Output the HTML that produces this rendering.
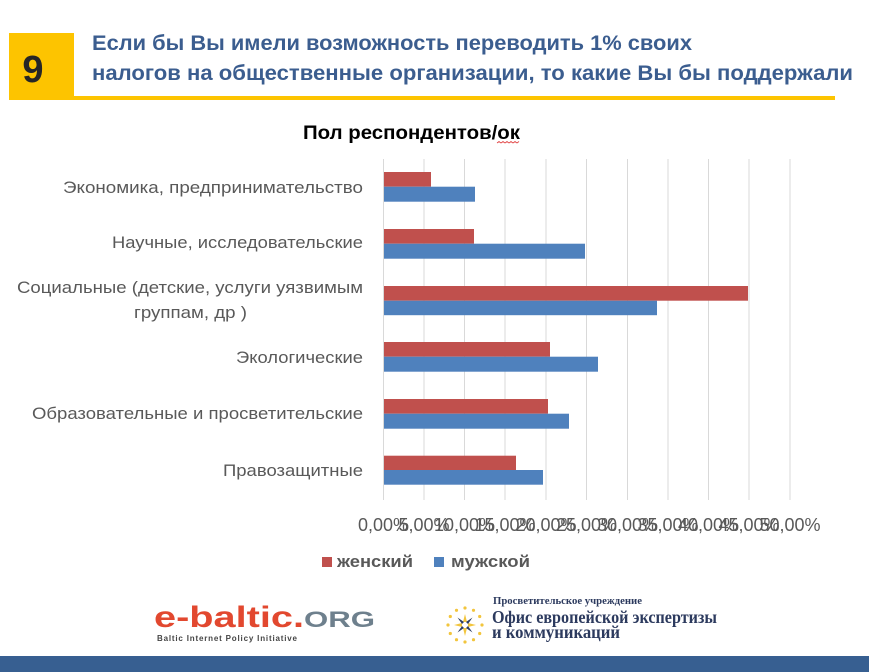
<!DOCTYPE html>
<html>
<head>
<meta charset="utf-8">
<style>
  html, body { margin:0; padding:0; background:#fff; }
  body { width:869px; height:672px; overflow:hidden; }
  svg { display:block; }
  .sans { font-family: "Liberation Sans", "DejaVu Sans", sans-serif; }
  .serif { font-family: "Liberation Serif", "DejaVu Serif", serif; }
</style>
</head>
<body>
<svg width="869" height="672" viewBox="0 0 869 672" xmlns="http://www.w3.org/2000/svg">
  <rect x="0" y="0" width="869" height="672" fill="#ffffff"/>

  <!-- Header -->
  <rect x="9" y="33" width="65" height="67" fill="#fdc400"/>
  <rect x="9" y="96" width="826" height="4" fill="#fdc400"/>
  <text x="33" y="82" class="sans" font-size="38" font-weight="bold" fill="#262626" text-anchor="middle">9</text>
  <text x="92" y="50" class="sans" font-size="21" font-weight="bold" fill="#3b5d8f" textLength="600" lengthAdjust="spacingAndGlyphs">Если бы Вы имели возможность переводить 1% своих</text>
  <text x="92" y="80" class="sans" font-size="21" font-weight="bold" fill="#3b5d8f" textLength="761" lengthAdjust="spacingAndGlyphs">налогов на общественные организации, то какие Вы бы поддержали</text>

  <!-- Chart title -->
  <text x="303" y="139" class="sans" font-size="19" font-weight="bold" fill="#000" textLength="217" lengthAdjust="spacingAndGlyphs">Пол респондентов/ок</text>
  <path d="M497 143 l2 -1.5 l2 1.5 l2 -1.5 l2 1.5 l2 -1.5 l2 1.5 l2 -1.5 l2 1.5 l2 -1.5 l2 1.5 l2 -1.5" fill="none" stroke="#e04040" stroke-width="0.8"/>

  <!-- Gridlines -->
  <g stroke="#d9d9d9" stroke-width="1">
    <line x1="383.5" y1="159" x2="383.5" y2="500"/>
    <line x1="424" y1="159" x2="424" y2="500"/>
    <line x1="464.5" y1="159" x2="464.5" y2="500"/>
    <line x1="505" y1="159" x2="505" y2="500"/>
    <line x1="546" y1="159" x2="546" y2="500"/>
    <line x1="586.5" y1="159" x2="586.5" y2="500"/>
    <line x1="627.5" y1="159" x2="627.5" y2="500"/>
    <line x1="668" y1="159" x2="668" y2="500"/>
    <line x1="708.5" y1="159" x2="708.5" y2="500"/>
    <line x1="749" y1="159" x2="749" y2="500"/>
    <line x1="790" y1="159" x2="790" y2="500"/>
  </g>

  <!-- Bars -->
  <g>
    <rect x="384" y="172" width="47" height="14.7" fill="#c0504d"/>
    <rect x="384" y="186.7" width="91" height="15" fill="#4f81bd"/>

    <rect x="384" y="229" width="90" height="14.7" fill="#c0504d"/>
    <rect x="384" y="243.7" width="201" height="15" fill="#4f81bd"/>

    <rect x="384" y="286" width="364" height="14.7" fill="#c0504d"/>
    <rect x="384" y="300.7" width="273" height="14.5" fill="#4f81bd"/>

    <rect x="384" y="342" width="166" height="14.7" fill="#c0504d"/>
    <rect x="384" y="356.7" width="214" height="15" fill="#4f81bd"/>

    <rect x="384" y="399" width="164" height="14.7" fill="#c0504d"/>
    <rect x="384" y="413.7" width="185" height="15" fill="#4f81bd"/>

    <rect x="384" y="455.7" width="132" height="14.3" fill="#c0504d"/>
    <rect x="384" y="470" width="159" height="14.7" fill="#4f81bd"/>
  </g>

  <!-- Category labels -->
  <g class="sans" font-size="17" fill="#595959" text-anchor="end">
    <text x="363" y="193" textLength="300" lengthAdjust="spacingAndGlyphs">Экономика, предпринимательство</text>
    <text x="363" y="248" textLength="251" lengthAdjust="spacingAndGlyphs">Научные, исследовательские</text>
    <text x="363" y="293" textLength="346" lengthAdjust="spacingAndGlyphs">Социальные (детские, услуги уязвимым</text>
    <text x="247" y="318" textLength="113" lengthAdjust="spacingAndGlyphs">группам, др )</text>
    <text x="363" y="363" textLength="127" lengthAdjust="spacingAndGlyphs">Экологические</text>
    <text x="363" y="419" textLength="331" lengthAdjust="spacingAndGlyphs">Образовательные и просветительские</text>
    <text x="363" y="476" textLength="140" lengthAdjust="spacingAndGlyphs">Правозащитные</text>
  </g>

  <!-- Axis tick labels -->
  <g class="sans" font-size="18" fill="#595959" text-anchor="middle">
    <text x="383.5" y="531">0,00%</text>
    <text x="424" y="531">5,00%</text>
    <text x="464.5" y="531">10,00%</text>
    <text x="505" y="531">15,00%</text>
    <text x="546" y="531">20,00%</text>
    <text x="586.5" y="531">25,00%</text>
    <text x="627.5" y="531">30,00%</text>
    <text x="668" y="531">35,00%</text>
    <text x="708.5" y="531">40,00%</text>
    <text x="749" y="531">45,00%</text>
    <text x="790" y="531">50,00%</text>
  </g>

  <!-- Legend -->
  <rect x="322" y="557" width="10" height="10" fill="#c0504d"/>
  <text x="337" y="567" class="sans" font-size="17" font-weight="bold" fill="#595959" textLength="76" lengthAdjust="spacingAndGlyphs">женский</text>
  <rect x="434" y="557" width="10" height="10" fill="#4f81bd"/>
  <text x="451" y="567" class="sans" font-size="17" font-weight="bold" fill="#595959" textLength="79" lengthAdjust="spacingAndGlyphs">мужской</text>

  <!-- e-baltic logo -->
  <text x="154" y="627" class="sans" font-size="30" font-weight="bold" fill="#e2482f" textLength="150" lengthAdjust="spacingAndGlyphs">e-baltic.</text>
  <text x="304" y="627" class="sans" font-size="22" font-weight="bold" fill="#6e808d" textLength="71" lengthAdjust="spacingAndGlyphs">ORG</text>
  <text x="157" y="641" class="sans" font-size="8" font-weight="bold" fill="#444" textLength="140" lengthAdjust="spacing">Baltic Internet Policy Initiative</text>

  <!-- Office logo icon -->
  <g transform="translate(465,625)">
    <g fill="#f2c53d">
      <circle cx="0" cy="-17" r="1.6"/>
      <circle cx="8.5" cy="-14.7" r="1.6"/>
      <circle cx="14.7" cy="-8.5" r="1.6"/>
      <circle cx="17" cy="0" r="1.6"/>
      <circle cx="14.7" cy="8.5" r="1.6"/>
      <circle cx="8.5" cy="14.7" r="1.6"/>
      <circle cx="0" cy="17" r="1.6"/>
      <circle cx="-8.5" cy="14.7" r="1.6"/>
      <circle cx="-14.7" cy="8.5" r="1.6"/>
      <circle cx="-17" cy="0" r="1.6"/>
      <circle cx="-14.7" cy="-8.5" r="1.6"/>
      <circle cx="-8.5" cy="-14.7" r="1.6"/>
    </g>
    <g fill="#f2c53d">
      <polygon points="0,-11 2,-3 -2,-3"/>
      <polygon points="11,0 3,2 3,-2"/>
      <polygon points="0,11 -2,3 2,3"/>
      <polygon points="-11,0 -3,-2 -3,2"/>
    </g>
    <g fill="#2c3e66">
      <polygon points="7.5,-7.5 3,-1 1,-3"/>
      <polygon points="7.5,7.5 1,3 3,1"/>
      <polygon points="-7.5,7.5 -3,1 -1,3"/>
      <polygon points="-7.5,-7.5 -1,-3 -3,-1"/>
    </g>
  </g>
  <text x="493" y="604" class="serif" font-size="10" font-weight="bold" fill="#2c3a5e" textLength="149" lengthAdjust="spacingAndGlyphs">Просветительское учреждение</text>
  <text x="492" y="623" class="serif" font-size="18" font-weight="bold" fill="#2c3a5e" textLength="225" lengthAdjust="spacingAndGlyphs">Офис европейской экспертизы</text>
  <text x="492" y="638" class="serif" font-size="18" font-weight="bold" fill="#2c3a5e" textLength="128" lengthAdjust="spacingAndGlyphs">и коммуникаций</text>

  <!-- Bottom bar -->
  <rect x="0" y="656" width="869" height="16" fill="#375f91"/>
</svg>
</body>
</html>
